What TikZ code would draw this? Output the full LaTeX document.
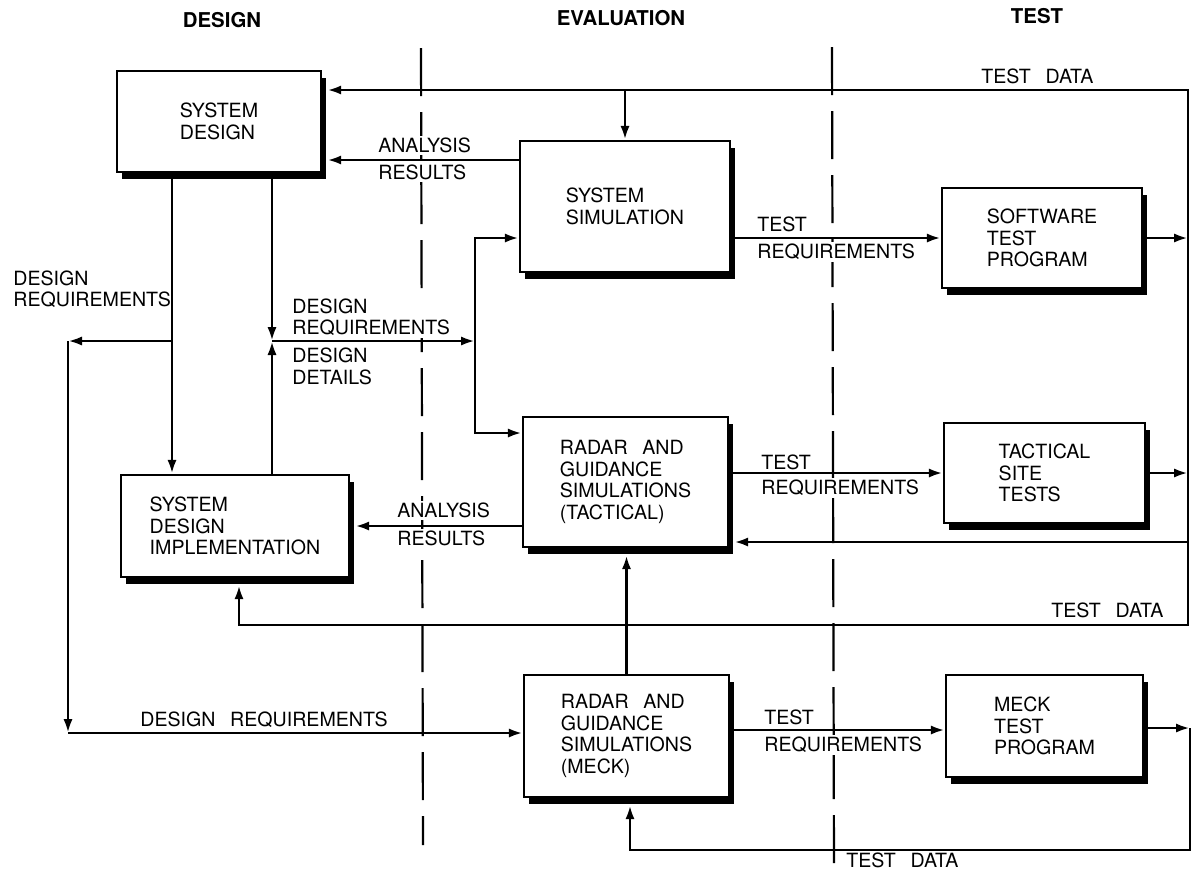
\documentclass[tikz,border=0pt]{standalone}
\usepackage{fontspec}
\setmainfont{TeX Gyre Heros}
\usetikzlibrary{arrows.meta,shadows,calc}
\newcommand{\wgap}{\hspace{0.75em}}
\begin{document}
\begin{tikzpicture}[x=0.5pt,y=0.5pt,
  font=\fontsize{9.8}{10.7}\selectfont,
  >={Latex[length=7pt,width=4.6pt]},
  box/.style={draw, line width=1.2pt, fill=white, align=left, inner sep=0pt,
     drop shadow={shadow xshift=2.6pt, shadow yshift=-3.4pt, fill=black, opacity=1}},
  lbl/.style={anchor=west, inner sep=1pt, fill=white, align=left},
  hdr/.style={font=\fontsize{10.2}{12}\selectfont\bfseries, inner sep=1pt},
  conn/.style={line width=1.4pt},
  sepline/.style={line width=1.1pt, dash pattern=on 24pt off 8pt}
]
\useasboundingbox (0,0) rectangle (1193,-874);

% column separators
\coordinate (d1t) at (421,-48); \coordinate (d1b) at (423,-845);
\coordinate (d2t) at (832,-47); \coordinate (d2b) at (834,-874);
\draw[sepline] (d1t) -- (d1b);
\draw[sepline] (d2t) -- (d2b);

% headers
\node[hdr] (hd) at (222,-20) {DESIGN};
\node[hdr] (he) at (621,-18) {EVALUATION};
\node[hdr] (ht) at (1037,-16) {TEST};

% boxes
\node[box, minimum width=102pt, minimum height=50.5pt] (sd) at (219,-121.5) {SYSTEM\\DESIGN};
\node[box, minimum width=105pt, minimum height=65.5pt] (ss) at (625,-206.5) {SYSTEM\\SIMULATION};
\node[box, minimum width=100pt, minimum height=50pt] (sw) at (1042,-238) {SOFTWARE\\TEST\\PROGRAM};
\node[box, minimum width=114pt, minimum height=51pt] (sdi) at (235,-526) {SYSTEM\\DESIGN\\IMPLEMENTATION};
\node[box, minimum width=102.5pt, minimum height=65pt] (tac) at (625.5,-482) {RADAR\wgap AND\\GUIDANCE\\SIMULATIONS\\(TACTICAL)};
\node[box, minimum width=100.5pt, minimum height=50pt] (ts) at (1044.5,-473) {TACTICAL\\SITE\\TESTS};
\node[box, minimum width=102.5pt, minimum height=61pt] (meck) at (626.5,-736) {RADAR\wgap AND\\GUIDANCE\\SIMULATIONS\\(MECK)};
\node[box, minimum width=98.5pt, minimum height=51pt] (mt) at (1044.5,-726) {MECK\\TEST\\PROGRAM};

% labels
\node[lbl] (tdtop) at (979,-76) {TEST\wgap DATA};
\node[lbl] (ar1a) at (376,-145) {ANALYSIS};
\node[lbl] (ar1b) at (376,-172) {RESULTS};
\node[lbl] (tr1a) at (755,-224) {TEST};
\node[lbl] (tr1b) at (755,-252) {REQUIREMENTS};
\node[lbl] (drl) at (11,-289) {DESIGN\\REQUIREMENTS};
\node[lbl] (drm) at (290,-317) {DESIGN\\REQUIREMENTS};
\node[lbl] (ddm) at (290,-366.5) {DESIGN\\DETAILS};
\node[lbl] (ar2a) at (395,-510) {ANALYSIS};
\node[lbl] (ar2b) at (395,-538) {RESULTS};
\node[lbl] (tr2a) at (759,-462) {TEST};
\node[lbl] (tr2b) at (759,-488) {REQUIREMENTS};
\node[lbl] (tdmid) at (1049,-610) {TEST\wgap DATA};
\node[lbl] (drb) at (138,-720) {DESIGN\wgap REQUIREMENTS};
\node[lbl] (tr3a) at (762,-717) {TEST};
\node[lbl] (tr3b) at (762,-745) {REQUIREMENTS};
\node[lbl] (tdbot) at (844,-860) {TEST\wgap DATA};

% coordinates for connector routing
\coordinate (R1) at (1188,-90);
\coordinate (R2) at (1188,-625);
\coordinate (R3) at (1188,-542);
\coordinate (sdiB) at (239,-625);
\coordinate (M1) at (1190,-728);
\coordinate (M2) at (1190,-850);
\coordinate (M3) at (630,-850);
\coordinate (J1) at (272,-341);
\coordinate (L1) at (172,-341);
\coordinate (L0) at (68,-341);
\coordinate (L2) at (68,-733);
\coordinate (V0) at (475,-238);
\coordinate (V1) at (475,-341);
\coordinate (V2) at (475,-433);

% test data feedback (software / tactical site)
\draw[conn,<->] ($(sdiB |- sdi.south)+(0,-7)$) -- (sdiB) -- (R2) -- (R1) -- ($(sd.east |- R1)+(5,0)$);
\draw[conn,->] (ss.north |- R1) -- (ss.north);
\draw[conn,->] (sw.east) -- (sw.east -| R1);
\draw[conn,->] (ts.east) -- (ts.east -| R1);
\draw[conn,->] (R3) -- ($(tac.east |- R3)+(5,0)$);

% analysis results
\draw[conn,->] (ss.west |- 0,-160) -- ($(sd.east |- 0,-160)+(5,0)$);
\draw[conn,->] (tac.west |- sdi.east) -- ($(sdi.east)+(5,0)$);

% test requirements
\draw[conn,->] (ss.east |- sw.west) -- (sw.west);
\draw[conn,->] (tac.east |- ts.west) -- (ts.west);
\draw[conn,->] (meck.east |- 0,-730) -- (mt.west |- 0,-730);

% meck test data loop
\draw[conn,->] (mt.east |- M1) -- (M1);
\draw[conn,->] (M1) -- (M2) -- (M3) -- ($(M3 |- meck.south)+(0,-7)$);

% meck to tactical
\draw[conn,->] (meck.north) -- ($(meck.north |- tac.south)+(0,-7)$);

% design requirements / details
\draw[conn,->] (sd.south -| L1) -- (sdi.north -| L1);
\draw[conn,->] (sd.south -| J1) -- (J1);
\draw[conn,->] (sdi.north -| J1) -- (J1);
\draw[conn,->] (J1) -- (V1);
\draw[conn,<->] (V0 -| ss.west) -- (V0) -- (V2) -- (V2 -| tac.west);
\draw[conn,->] (L1) -- (L0);
\draw[conn,->] (L0) -- (L2);
\draw[conn,->] (L2) -- (L2 -| meck.west);
\end{tikzpicture}
\end{document}
